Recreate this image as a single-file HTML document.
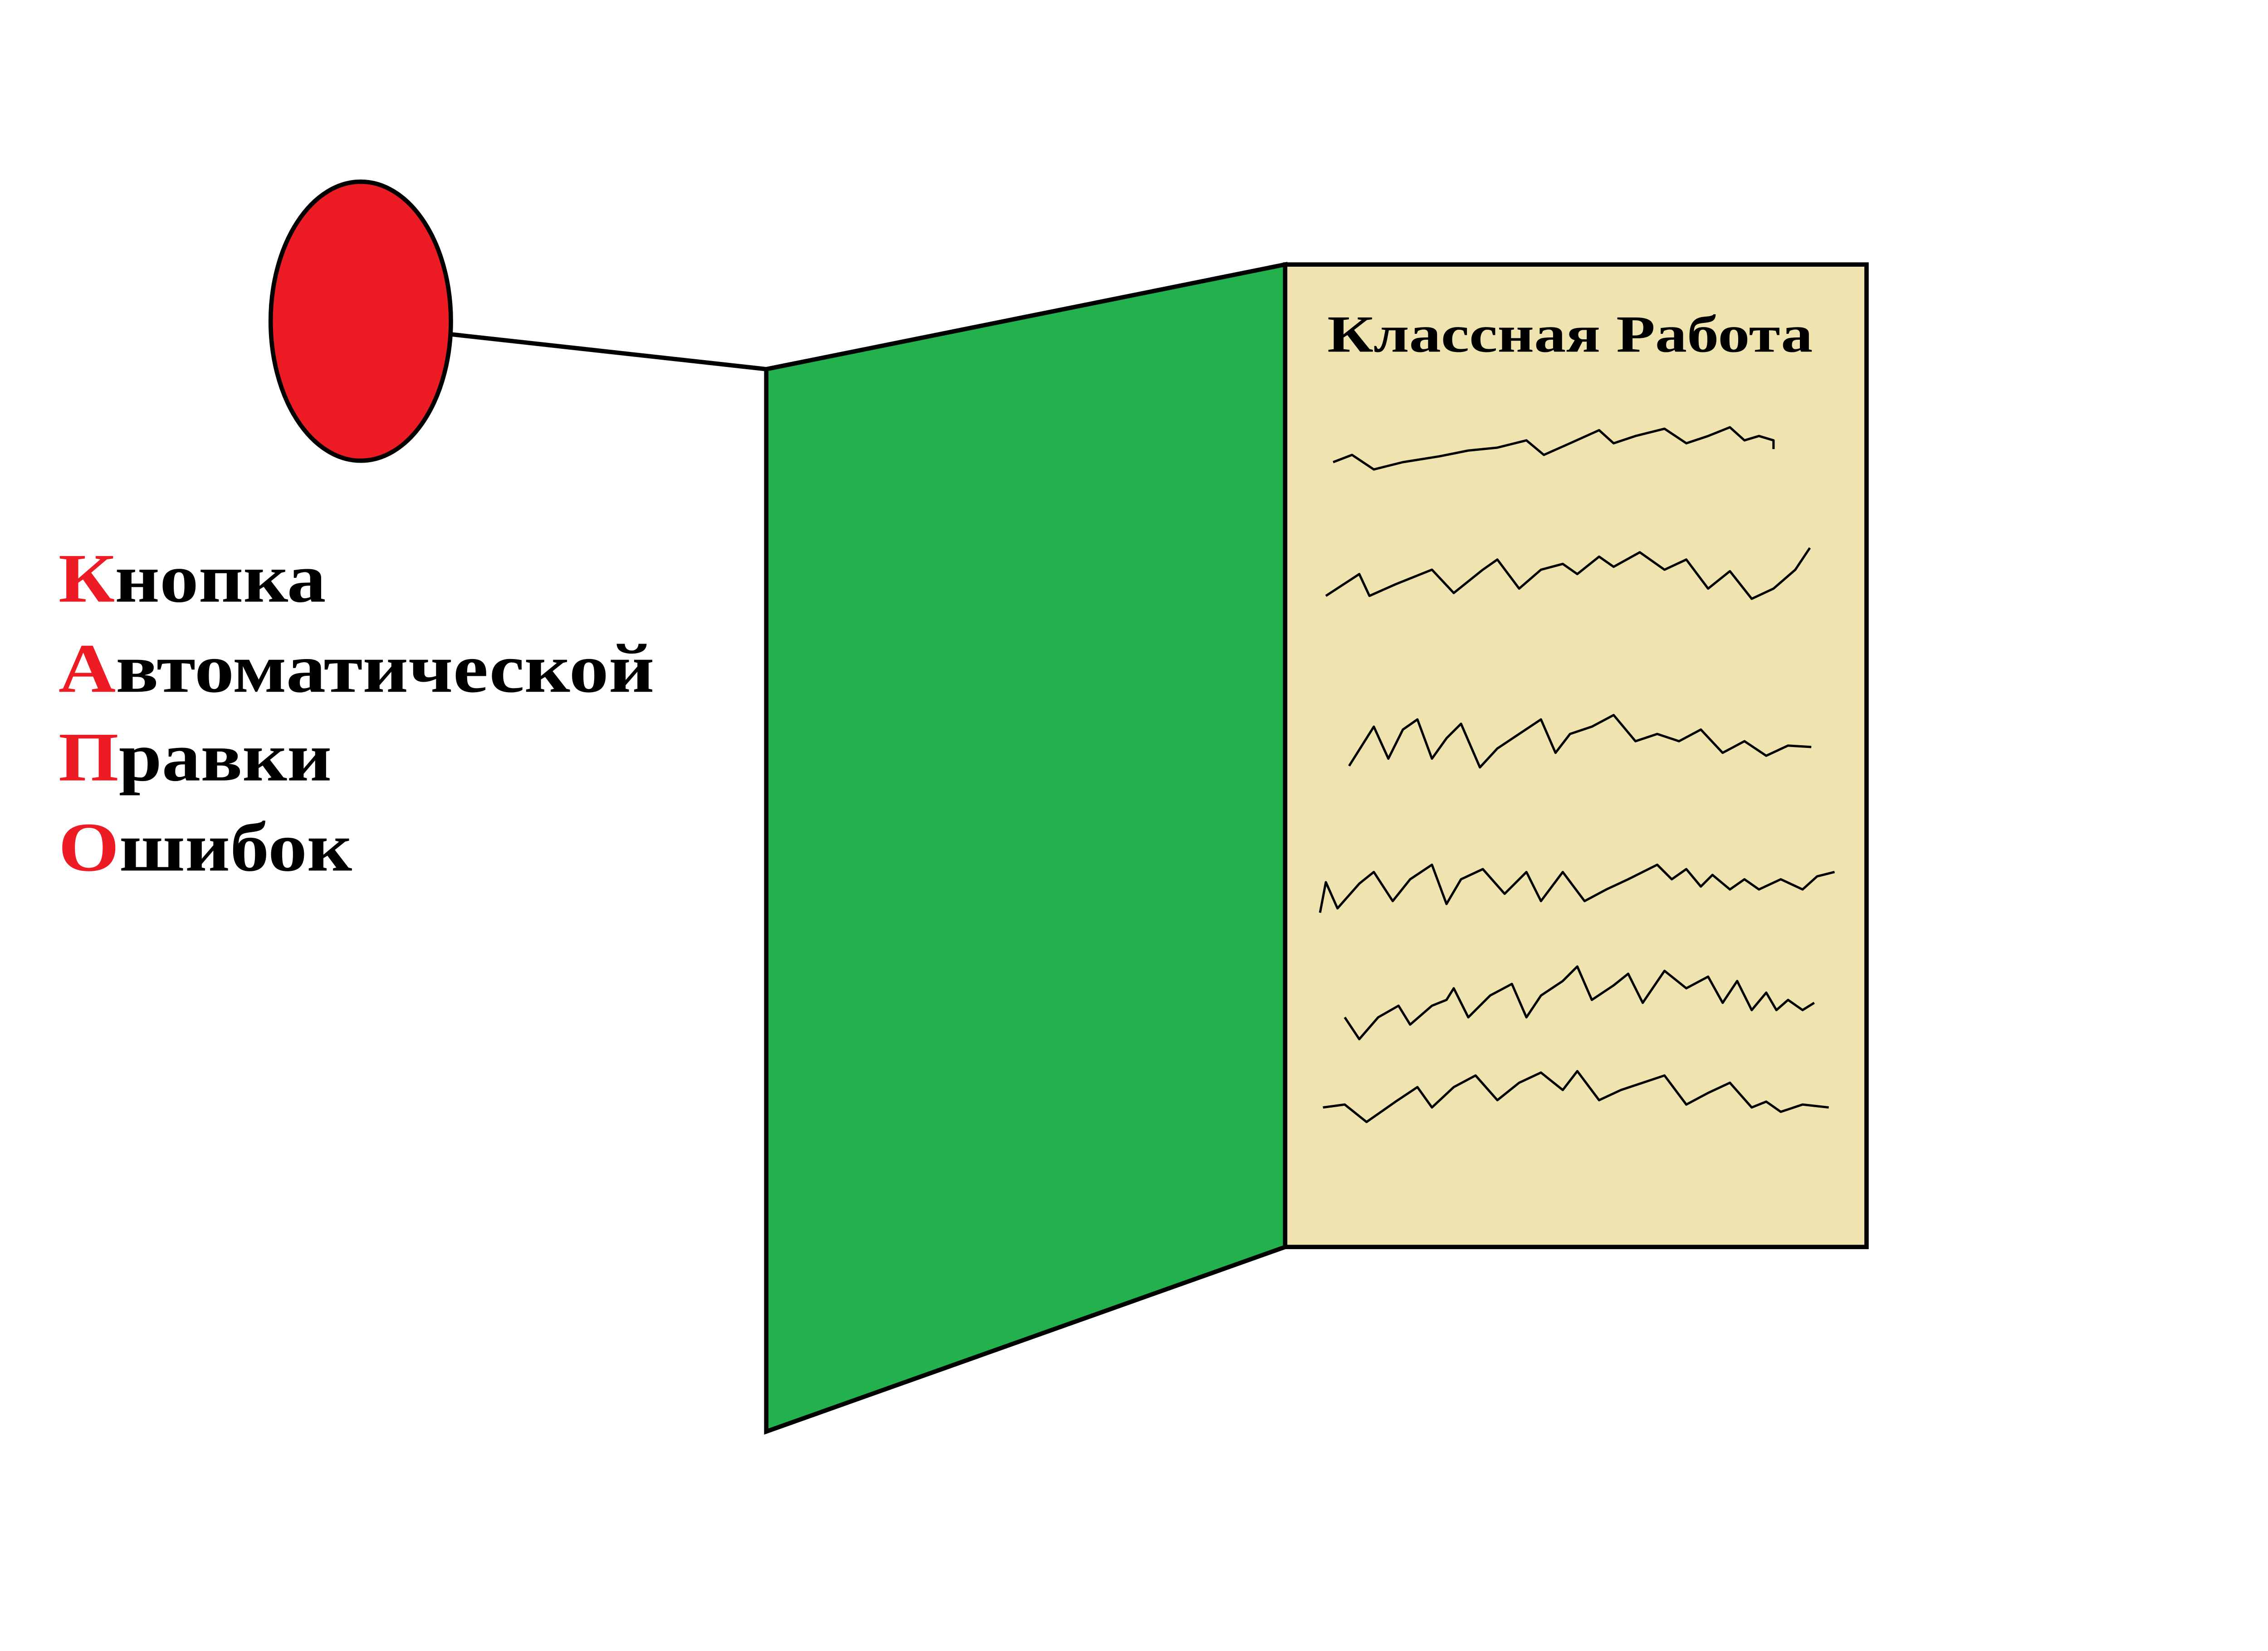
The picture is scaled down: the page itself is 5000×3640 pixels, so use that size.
<!DOCTYPE html>
<html><head><meta charset="utf-8"><style>
html,body{margin:0;padding:0;background:#fff;}
svg{display:block;}
</style></head><body>
<svg width="5000" height="3640" viewBox="0 0 1560 1136" xmlns="http://www.w3.org/2000/svg">
<rect width="1560" height="1136" fill="#fff"/>
<line x1="310" y1="230" x2="527" y2="254" stroke="#000" stroke-width="3"/>
<ellipse cx="248" cy="221" rx="62" ry="96" fill="#ed1c24" stroke="#000" stroke-width="3"/>
<polygon points="527,254 884,182 884,858 527,985" fill="#22b14c" stroke="#000" stroke-width="3"/>
<rect x="884" y="182" width="400" height="676" fill="#efe4b0" stroke="#000" stroke-width="3"/>
<text x="913" y="242" textLength="334" lengthAdjust="spacingAndGlyphs" font-family="Liberation Serif, serif" font-weight="bold" font-size="36" fill="#000">Классная Работа</text>
<g fill="none" stroke="#000" stroke-width="1.6" stroke-linejoin="round">
<polyline points="917,318 930,313 945,323 965,318 990,314 1010,310 1030,308 1050,303 1062,313 1080,305 1100,296 1110,305 1125,300 1145,295 1160,305 1175,300 1190,294 1200,303 1210,300 1220,303 1220,309"/>
<polyline points="912,410 935,395 942,410 960,402 985,392 1000,408 1020,392 1030,385 1045,405 1060,392 1075,388 1085,395 1100,383 1110,390 1128,380 1145,392 1160,385 1175,405 1190,393 1205,412 1220,405 1235,392 1245,377"/>
<polyline points="928,527 945,500 955,522 965,502 975,495 985,522 995,508 1005,498 1018,528 1030,515 1045,505 1060,495 1070,518 1080,505 1095,500 1110,492 1125,510 1140,505 1155,510 1170,502 1185,518 1200,510 1215,520 1230,513 1246,514"/>
<polyline points="908,628 912,607 920,625 935,608 945,600 958,620 970,605 985,595 995,622 1005,605 1020,598 1035,615 1050,600 1060,620 1075,600 1090,620 1105,612 1120,605 1140,595 1150,605 1160,598 1170,610 1178,602 1190,612 1200,605 1210,612 1225,605 1240,612 1250,603 1262,600"/>
<polyline points="925,700 935,715 948,700 962,692 970,705 985,692 995,688 1000,680 1010,700 1025,685 1040,677 1050,700 1060,685 1075,675 1085,665 1095,688 1110,678 1120,670 1130,690 1145,668 1160,680 1175,672 1185,690 1195,675 1205,695 1215,683 1222,695 1230,688 1240,695 1248,690"/>
<polyline points="910,762 925,760 940,772 960,758 975,748 985,762 1000,748 1015,740 1030,757 1045,745 1060,738 1075,750 1085,737 1100,757 1115,750 1130,745 1145,740 1160,760 1175,752 1190,745 1205,762 1215,758 1225,765 1240,760 1258,762"/>
</g>
<g font-family="Liberation Serif, serif" font-weight="bold" font-size="48" fill="#000" lengthAdjust="spacingAndGlyphs">
<text x="40" y="414" textLength="184" lengthAdjust="spacingAndGlyphs"><tspan fill="#ed1c24">К</tspan>нопка</text>
<text x="40" y="476" textLength="410" lengthAdjust="spacingAndGlyphs"><tspan fill="#ed1c24">А</tspan>втоматической</text>
<text x="40" y="537" textLength="188" lengthAdjust="spacingAndGlyphs"><tspan fill="#ed1c24">П</tspan>равки</text>
<text x="40" y="599" textLength="202" lengthAdjust="spacingAndGlyphs"><tspan fill="#ed1c24">О</tspan>шибок</text>
</g>
</svg>
</body></html>
